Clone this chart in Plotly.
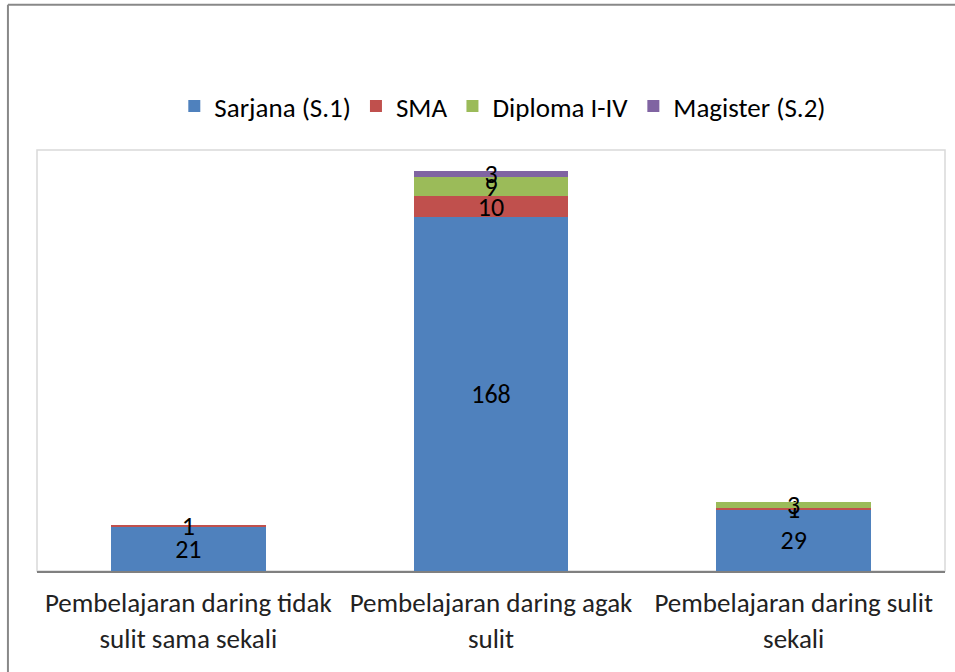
import plotly.graph_objects as go

categories = ["Pembelajaran daring tidak<br>sulit sama sekali",
              "Pembelajaran daring agak<br>sulit",
              "Pembelajaran daring sulit<br>sekali"]
series_names = ["Sarjana (S.1)", "SMA", "Diploma I-IV", "Magister (S.2)"]
sarjana = [21, 168, 29]
sma = [1, 10, 1]
diploma = [None, 9, 3]
magister = [None, 3, None]
colors = ["#4F81BD", "#C0504D", "#9BBB59", "#8064A2"]

FONT = "Carlito, 'Liberation Sans Narrow', 'Noto Sans', sans-serif"

fig = go.Figure()
for name, vals, col in zip(series_names, [sarjana, sma, diploma, magister], colors):
    fig.add_trace(go.Bar(
        name=name, x=categories, y=vals, marker_color=col,
        marker_line_width=0,
        text=[("" if v is None else str(v)) for v in vals],
        textposition="inside", insidetextanchor="middle",
        constraintext="none", textangle=0,
        textfont=dict(family=FONT, size=26, color="#000000"),
    ))

fig.update_layout(
    barmode="stack", bargap=0.49,
    width=955, height=672,
    margin=dict(l=37, r=10, t=150, b=101),
    plot_bgcolor="white", paper_bgcolor="white",
    font=dict(family=FONT, size=27, color="#000000"),
    showlegend=True,
    legend=dict(orientation="h", x=0.513, xanchor="center", y=1.045, yanchor="bottom",
                font=dict(family=FONT, size=27, color="#000000"),
                itemwidth=30, traceorder="normal"),
    xaxis=dict(showline=True, linecolor="#808080", linewidth=2, ticks="",
               ticklabelstandoff=7,
               tickfont=dict(family=FONT, size=27, color="#222222"),
               mirror=False),
    yaxis=dict(range=[0, 200], showticklabels=False, showgrid=False,
               zeroline=False, showline=False),
    shapes=[
        dict(type="rect", xref="paper", yref="paper", x0=0, y0=0, x1=1, y1=1,
             line=dict(color="#D9D9D9", width=1.5), layer="below"),
        dict(type="line", xref="paper", yref="paper", x0=-0.032, y0=-0.25, x1=-0.032, y1=1.345,
             line=dict(color="#888888", width=2)),
        dict(type="line", xref="paper", yref="paper", x0=-0.032, y0=1.345, x1=1.02, y1=1.345,
             line=dict(color="#888888", width=2)),
    ],
)

fig.write_html("out.html", config={"displayModeBar": False},
               post_script="document.body.style.margin='0';")
